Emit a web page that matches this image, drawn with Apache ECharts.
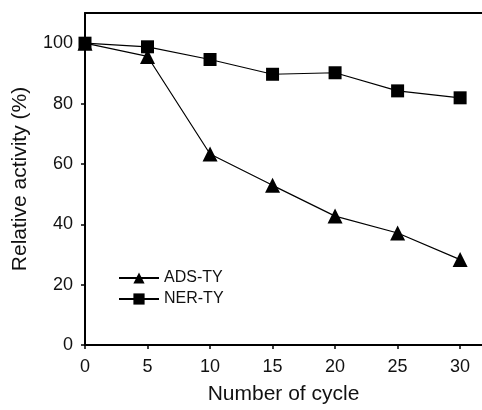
<!DOCTYPE html>
<html>
<head>
<meta charset="utf-8">
<script src="https://cdn.jsdelivr.net/npm/echarts@6/dist/echarts.min.js"></script>
<style>
  html, body { margin: 0; padding: 0; background: #fff; }
  #main { width: 482px; height: 410px; }
</style>
</head>
<body>
<div id="main"></div>
<script>
var cycles = [0, 5, 10, 15, 20, 25, 30];
var adsTy = [100, 95.6, 63.3, 52.9, 42.7, 37.1, 28.3];
var nerTy = [100, 98.8, 94.6, 89.7, 90.2, 84.2, 81.9];
var yTicks = [0, 20, 40, 60, 80, 100];

function pairs(xs, ys) {
  return xs.map(function (x, i) { return [x, ys[i]]; });
}

var chart = echarts.init(document.getElementById('main'));

var font = 'Liberation Sans, Arial, sans-serif';
var xMax = 31.75; // plot runs off the right edge of the picture

var option = {
  animation: false,
  grid: {
    left: 85,
    right: 0,
    top: 13,
    bottom: 61
  },
  legend: {
    orient: 'vertical',
    left: 113,
    top: 265,
    itemWidth: 40,
    itemHeight: 14,
    itemGap: 5,
    textStyle: { fontFamily: font, fontSize: 16, color: '#111' },
    data: ['ADS-TY', 'NER-TY']
  },
  xAxis: [
    {
      type: 'value',
      min: 0,
      max: xMax,
      name: 'Number of cycle',
      nameLocation: 'middle',
      nameGap: 39,
      nameTextStyle: { fontFamily: font, fontSize: 21, color: '#111' },
      axisLine: { lineStyle: { color: '#000', width: 2 } },
      axisTick: { length: 4, customValues: cycles, lineStyle: { color: '#000', width: 1.5 } },
      axisLabel: { fontFamily: font, fontSize: 18, color: '#111', margin: 13, customValues: cycles },
      splitLine: { show: false }
    },
    {
      // top frame line only
      type: 'value',
      position: 'top',
      min: 0,
      max: xMax,
      axisLine: { show: true, lineStyle: { color: '#000', width: 2 } },
      axisTick: { show: false },
      axisLabel: { show: false },
      splitLine: { show: false }
    }
  ],
  yAxis: {
    type: 'value',
    min: 0,
    max: 110,
    name: 'Relative activity (%)',
    nameLocation: 'middle',
    nameGap: 54,
    nameTextStyle: { fontFamily: font, fontSize: 21, color: '#111' },
    axisLine: { show: true, lineStyle: { color: '#000', width: 2 } },
    axisTick: { show: true, length: 4, customValues: yTicks, lineStyle: { color: '#000', width: 1.5 } },
    axisLabel: { fontFamily: font, fontSize: 18, color: '#111', margin: 12, customValues: yTicks },
    splitLine: { show: false }
  },
  series: [
    {
      name: 'ADS-TY',
      type: 'line',
      data: pairs(cycles, adsTy),
      symbol: 'triangle',
      symbolSize: 15,
      itemStyle: { color: '#000' },
      lineStyle: { color: '#000', width: 1.2 }
    },
    {
      name: 'NER-TY',
      type: 'line',
      data: pairs(cycles, nerTy),
      symbol: 'rect',
      symbolSize: 13,
      itemStyle: { color: '#000' },
      lineStyle: { color: '#000', width: 1.2 }
    }
  ]
};

chart.setOption(option);
</script>
</body>
</html>
